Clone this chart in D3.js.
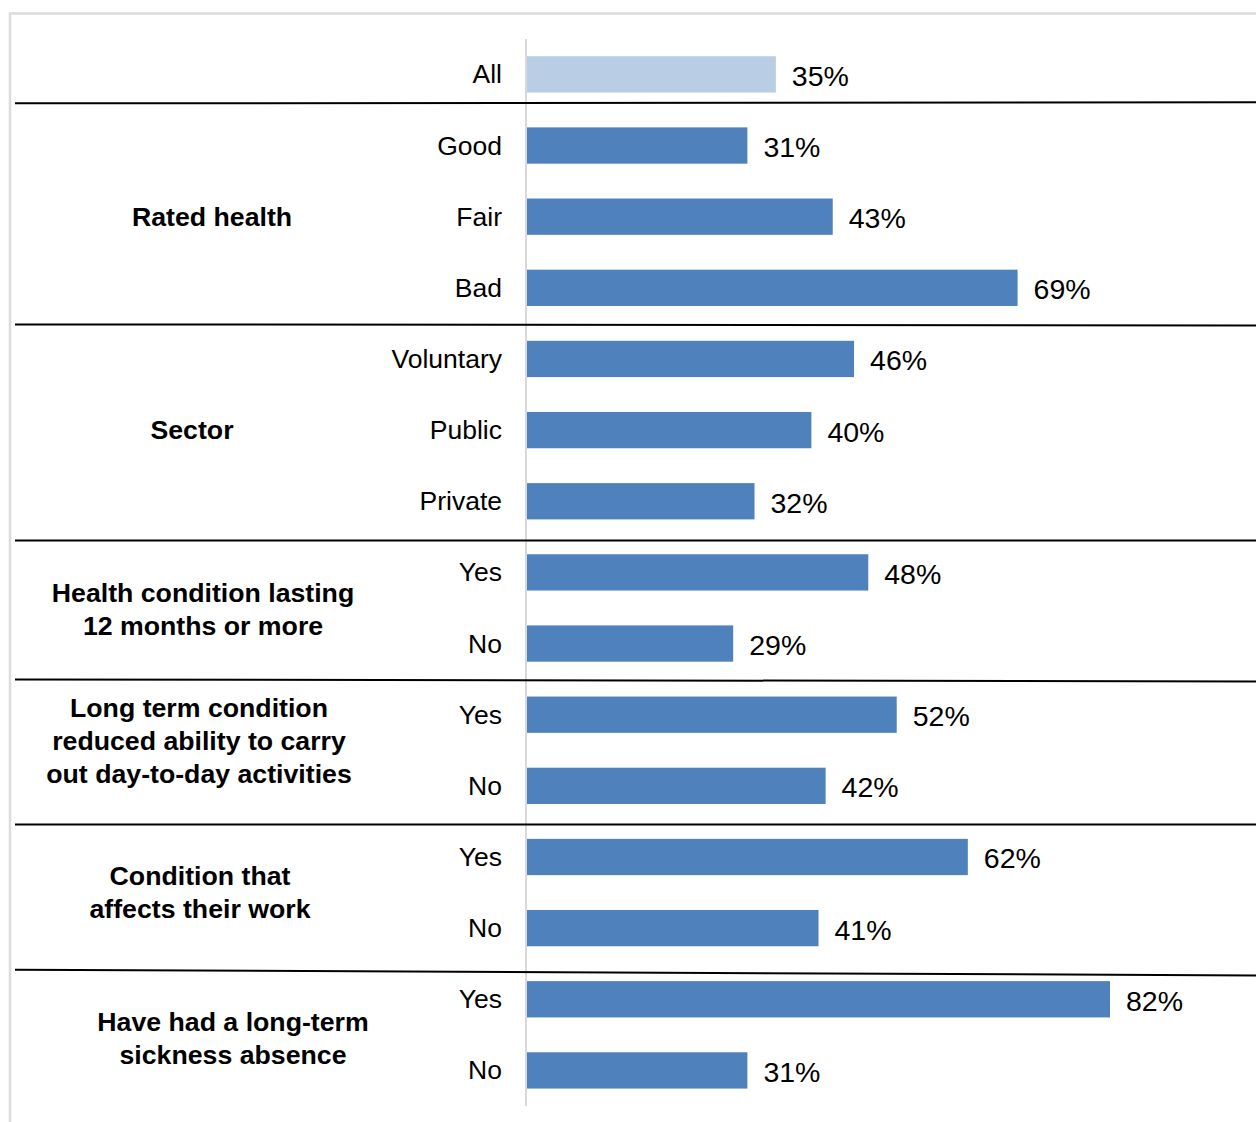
<!DOCTYPE html>
<html>
<head>
<meta charset="utf-8">
<script src="https://cdn.jsdelivr.net/npm/d3@7/dist/d3.min.js"></script>
<style>
  html, body { margin: 0; padding: 0; background: #fff; }
  svg { display: block; font-family: "Liberation Sans", Arial, sans-serif; }
</style>
</head>
<body>
<script>
// ---- data ----
const categories = ["All", "Good", "Fair", "Bad", "Voluntary", "Public", "Private",
  "Yes", "No", "Yes", "No", "Yes", "No", "Yes", "No"];
const values = [35, 31, 43, 69, 46, 40, 32, 48, 29, 52, 42, 62, 41, 82, 31];
const groupNames = [
  [],
  ["Rated health"],
  ["Sector"],
  ["Health condition lasting", "12 months or more"],
  ["Long term condition", "reduced ability to carry", "out day-to-day activities"],
  ["Condition that", "affects their work"],
  ["Have had a long-term", "sickness absence"]
];
const groupSizes = [1, 3, 3, 2, 2, 2, 2];

// ---- layout / style (not data) ----
const W = 1256, H = 1122;
const groupLabelX = [0, 212, 192, 203, 199, 200, 233];
const groupLabelDy = [0, 0, 0, 2, -9, 0, 4];
const sepOffsets = [[-6.6, -7.6], [1, 2], [3.6, 3.6], [0.3, 2.3], [3, 3], [6, 11.7]];

const svg = d3.select("body").append("svg").attr("width", W).attr("height", H);

// outer frame
svg.append("rect").attr("x", 10).attr("y", 13.5).attr("width", W + 20).attr("height", H + 20)
  .attr("fill", "none").attr("stroke", "#dcdcdc").attr("stroke-width", 2.5);

const rows = categories.map((c, i) => ({ key: i, cat: c, v: values[i] }));

const x = d3.scaleLinear().domain([0, 100]).range([527, 1238]);
const y = d3.scaleBand().domain(rows.map(r => r.key)).range([38.8, 1106])
  .paddingInner(0.49).paddingOuter(0.245);
const cy = k => y(k) + y.bandwidth() / 2;

// axis line
svg.append("line").attr("x1", 526).attr("x2", 526).attr("y1", 39).attr("y2", 1106)
  .attr("stroke", "#d9d9d9").attr("stroke-width", 2);

// bars
svg.selectAll("rect.bar").data(rows).join("rect").attr("class", "bar")
  .attr("x", x(0)).attr("y", d => y(d.key))
  .attr("width", d => x(d.v) - x(0)).attr("height", y.bandwidth())
  .attr("fill", (d, i) => i === 0 ? "#b9cde5" : "#4f81bd");

// value labels
svg.selectAll("text.val").data(rows).join("text").attr("class", "val")
  .attr("x", d => x(d.v) + 16).attr("y", d => cy(d.key) + 11.5)
  .attr("font-size", 28.5).attr("fill", "#000")
  .text(d => d.v + "%");

// category labels
svg.selectAll("text.cat").data(rows).join("text").attr("class", "cat")
  .attr("x", 502).attr("y", d => cy(d.key) + 9)
  .attr("text-anchor", "end").attr("font-size", 26.5).attr("fill", "#000")
  .text(d => d.cat);

// groups: separators & labels
let start = 0;
groupSizes.forEach((n, gi) => {
  const first = start, last = start + n - 1;
  if (gi > 0) {
    const mid = (cy(first - 1) + cy(first)) / 2;
    const off = sepOffsets[gi - 1];
    svg.append("line").attr("x1", 15).attr("x2", W)
      .attr("y1", mid + off[0]).attr("y2", mid + off[1])
      .attr("stroke", "#000").attr("stroke-width", 2);
    const lines = groupNames[gi];
    const center = (cy(first) + cy(last)) / 2 + groupLabelDy[gi];
    const lh = 33;
    const t = svg.append("text").attr("text-anchor", "middle")
      .attr("font-size", 26.7).attr("font-weight", "bold").attr("fill", "#000");
    lines.forEach((s, li) => {
      t.append("tspan").attr("x", groupLabelX[gi])
        .attr("y", center + 9 + (li - (lines.length - 1) / 2) * lh)
        .text(s);
    });
  }
  start += n;
});
</script>
</body>
</html>
